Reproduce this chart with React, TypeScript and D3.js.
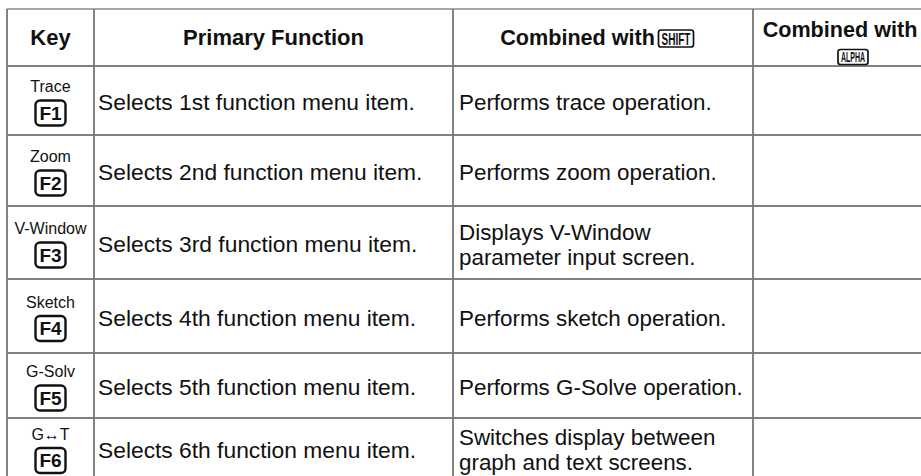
import { useEffect } from "react";
import * as d3 from "d3";

const headers = ["Key", "Primary Function", "Combined with", "Combined with"];
const headerCaps = ["", "", "SHIFT", "ALPHA"];
const keyLabels = ["Trace", "Zoom", "V-Window", "Sketch", "G-Solv", "G\u2194T"];
const keyCaps = ["F1", "F2", "F3", "F4", "F5", "F6"];
const primaryFns = [
  "Selects 1st function menu item.",
  "Selects 2nd function menu item.",
  "Selects 3rd function menu item.",
  "Selects 4th function menu item.",
  "Selects 5th function menu item.",
  "Selects 6th function menu item.",
];
const shiftFns = [
  ["Performs trace operation."],
  ["Performs zoom operation."],
  ["Displays V-Window", "parameter input screen."],
  ["Performs sketch operation."],
  ["Performs G-Solve operation."],
  ["Switches display between", "graph and text screens."],
];
const alphaFns = ["", "", "", "", "", ""];

// layout
const W = 921;
const H = 476;
const colEdges = [7, 94, 453, 753, 925];
const rowEdges = [9, 66, 135, 206, 279, 353, 418, 478];
const FONT = "'Liberation Sans', Arial, Helvetica, sans-serif";

const x = d3.scaleOrdinal<number, number>().domain(d3.range(colEdges.length)).range(colEdges);
const y = d3.scaleOrdinal<number, number>().domain(d3.range(rowEdges.length)).range(rowEdges);

function Cap({ cx, cy, label }: { cx: number; cy: number; label: string }) {
  return (
    <g transform={`translate(${cx},${cy})`}>
      <rect x={-15} y={-12.5} width={30} height={25} rx={4.5} fill="#fff" stroke="#111" strokeWidth={2.4} />
      <text textAnchor="middle" dy="0.36em" fontSize={19} fontWeight="bold" fontFamily={FONT} fill="#111">
        {label}
      </text>
    </g>
  );
}

function SmallCap({ cx, cy, w, h, fs, label }: { cx: number; cy: number; w: number; h: number; fs: number; label: string }) {
  return (
    <g transform={`translate(${cx},${cy})`}>
      <rect x={-w / 2} y={-h / 2} width={w} height={h} rx={2.5} fill="#fff" stroke="#111" strokeWidth={1.7} />
      <text
        textAnchor="middle"
        dy="0.36em"
        fontSize={fs}
        fontWeight="bold"
        fontFamily={FONT}
        fill="#111"
        textLength={w - 6}
        lengthAdjust="spacingAndGlyphs"
      >
        {label}
      </text>
    </g>
  );
}

export default function App() {
  useEffect(() => {
    document.body.style.margin = "0";
  }, []);

  const nRows = keyCaps.length;
  const mid = (a: number, b: number) => (a + b) / 2;
  const lineH = 25;
  const headMid = mid(y(0), y(1));

  return (
    <svg width={W} height={H} style={{ display: "block", background: "#fff" }}>
      {/* grid */}
      {d3.range(rowEdges.length).map(i => (
        <line
          key={"h" + i}
          x1={x(0)}
          x2={W}
          y1={y(i)}
          y2={y(i)}
          stroke={i === 0 ? "#8a8a8a" : "#555"}
          strokeWidth={1.6}
        />
      ))}
      {d3.range(colEdges.length).map(j => (
        <line
          key={"v" + j}
          x1={x(j)}
          x2={x(j)}
          y1={y(0)}
          y2={y(rowEdges.length - 1)}
          stroke="#777"
          strokeWidth={1.8}
        />
      ))}

      {/* header */}
      <g fontFamily={FONT} fontWeight="bold" fontSize={22} fill="#111">
        <text x={mid(x(0), x(1))} y={headMid} dy="0.36em" textAnchor="middle">
          {headers[0]}
        </text>
        <text x={mid(x(1), x(2))} y={headMid} dy="0.36em" textAnchor="middle">
          {headers[1]}
        </text>
        <text x={mid(x(2), x(3)) + 52} y={headMid} dy="0.36em" textAnchor="end" fontSize={21.6}>
          {headers[2]}
        </text>
        <text x={mid(x(3), x(4)) + 1} y={y(0) + 20} dy="0.36em" textAnchor="middle" fontSize={21.6}>
          {headers[3]}
        </text>
      </g>
      <SmallCap cx={mid(x(2), x(3)) + 73} cy={headMid + 1} w={35} h={17} fs={17} label={headerCaps[2]} />
      <SmallCap cx={mid(x(3), x(4)) + 14} cy={y(1) - 9} w={30} h={15} fs={15} label={headerCaps[3]} />

      {/* body */}
      {d3.range(nRows).map(i => {
        const top = y(i + 1);
        const bot = y(i + 2);
        const cyMid = mid(top, bot);
        const shift = shiftFns[i];
        return (
          <g key={"r" + i} fontFamily={FONT} fill="#111">
            <text x={mid(x(0), x(1))} y={cyMid - 14} dy="0.36em" textAnchor="middle" fontSize={16}>
              {keyLabels[i]}
            </text>
            <Cap cx={mid(x(0), x(1))} cy={cyMid + 12.5} label={keyCaps[i]} />
            <text x={x(1) + 4} y={cyMid + 1.5} dy="0.36em" fontSize={22.8}>
              {primaryFns[i]}
            </text>
            {shift.map((s, k) => (
              <text
                key={k}
                x={x(2) + 6}
                y={cyMid + 1.5 + (k - (shift.length - 1) / 2) * lineH}
                dy="0.36em"
                fontSize={22.4}
              >
                {s}
              </text>
            ))}
            <text x={x(3) + 6} y={cyMid} dy="0.36em" fontSize={22.4}>
              {alphaFns[i]}
            </text>
          </g>
        );
      })}
    </svg>
  );
}
